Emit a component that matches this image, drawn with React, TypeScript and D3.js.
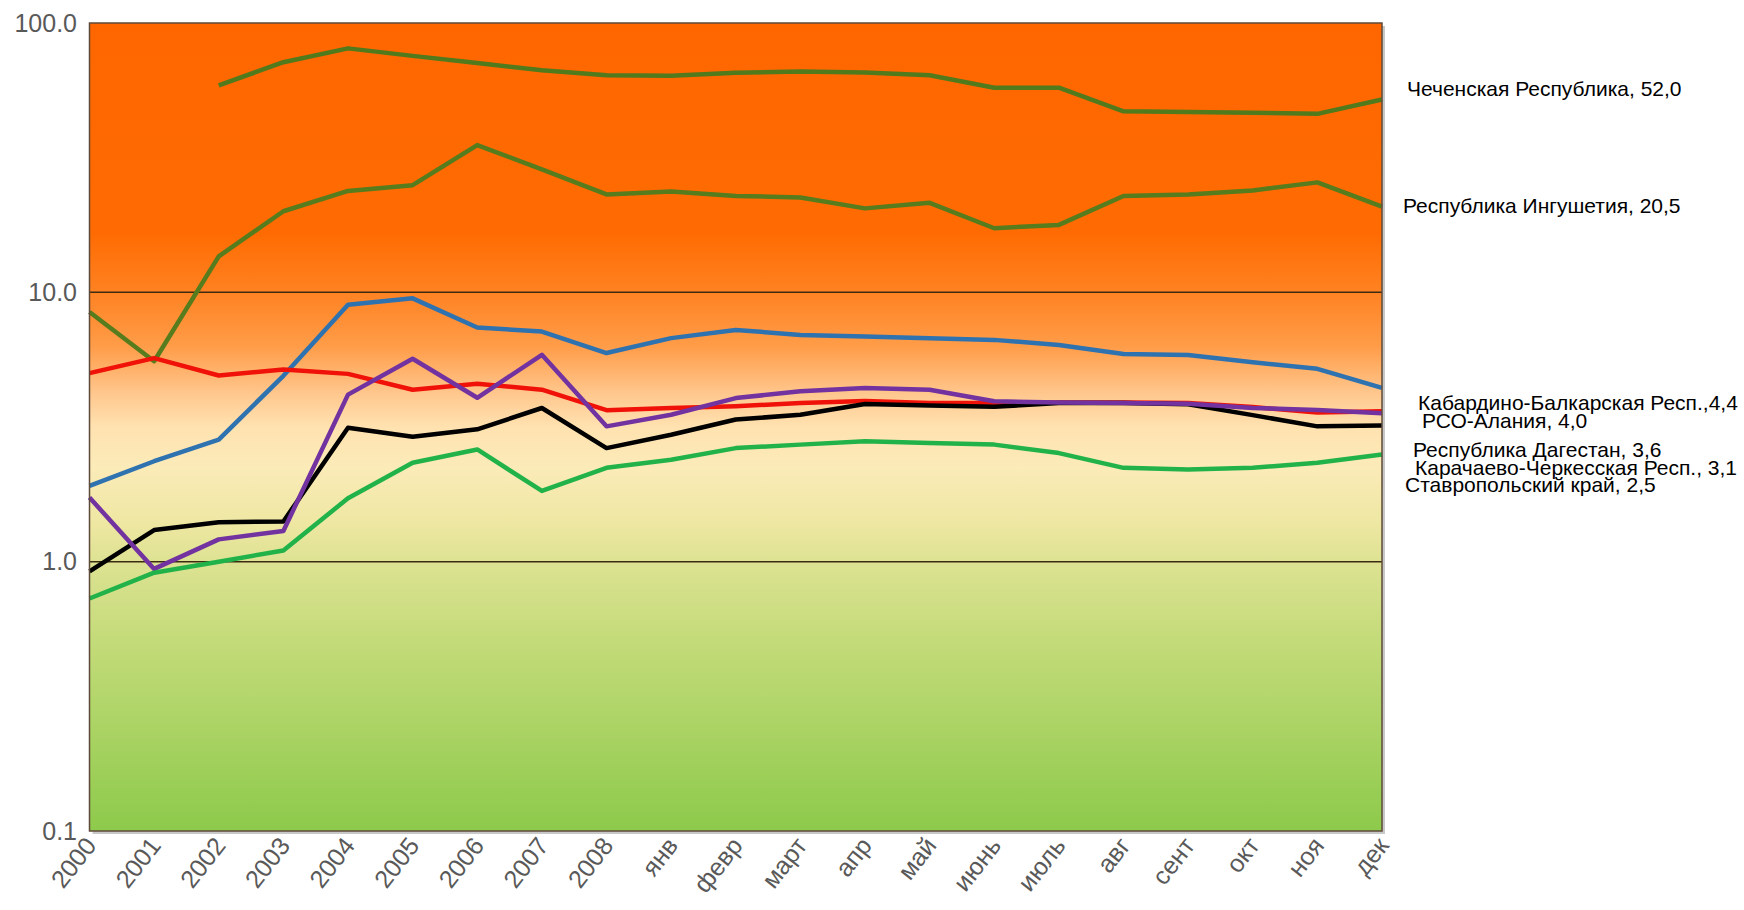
import React, { useEffect, useRef } from 'react';
import * as d3 from 'd3';

const categories = [
  '2000', '2001', '2002', '2003', '2004', '2005', '2006', '2007', '2008',
  'янв', 'февр', 'март', 'апр', 'май', 'июнь', 'июль', 'авг', 'сент', 'окт', 'ноя', 'дек',
];

const chechnya = [null, null, 58.7, 71.5, 80.5, 75.5, 71, 66.8, 64, 63.7, 65.3, 66, 65.5, 64, 57.5, 57.5, 47, 46.7, 46.4, 46, 52];
const ingushetia = [8.45, 5.55, 13.6, 20, 23.8, 25, 35.2, 28.6, 23.1, 23.7, 22.8, 22.5, 20.5, 21.5, 17.3, 17.8, 22.8, 23.1, 23.9, 25.6, 20.8];
const kbr = [1.91, 2.36, 2.84, 4.9, 9.0, 9.5, 7.4, 7.15, 5.95, 6.76, 7.25, 6.95, 6.85, 6.76, 6.66, 6.38, 5.9, 5.85, 5.5, 5.2, 4.42];
const alania = [5.01, 5.7, 4.91, 5.17, 4.98, 4.35, 4.58, 4.35, 3.65, 3.72, 3.78, 3.88, 3.95, 3.88, 3.88, 3.9, 3.9, 3.88, 3.75, 3.58, 3.62];
const dagestan = [1.73, 0.94, 1.21, 1.3, 4.17, 5.67, 4.06, 5.86, 3.18, 3.51, 4.05, 4.29, 4.41, 4.35, 3.94, 3.9, 3.88, 3.86, 3.72, 3.66, 3.56];
const kchr = [0.92, 1.31, 1.4, 1.41, 3.14, 2.91, 3.1, 3.72, 2.64, 2.96, 3.37, 3.51, 3.85, 3.8, 3.76, 3.88, 3.88, 3.84, 3.5, 3.18, 3.2];
const stavropol = [0.73, 0.91, 1.0, 1.1, 1.72, 2.33, 2.61, 1.83, 2.23, 2.39, 2.64, 2.72, 2.8, 2.76, 2.72, 2.53, 2.23, 2.2, 2.23, 2.33, 2.5];

const yTicks = [0.1, 1, 10, 100];

const seriesList = [
  { values: chechnya, color: '#517a1d' },
  { values: ingushetia, color: '#567c1d' },
  { values: kbr, color: '#2f72b0' },
  { values: alania, color: '#f01208' },
  { values: kchr, color: '#000000' },
  { values: dagestan, color: '#7232a0' },
  { values: stavropol, color: '#22b24a' },
];

const endLabels = [
  { text: 'Чеченская Республика, 52,0', x: 1407, y: 96 },
  { text: 'Республика Ингушетия, 20,5', x: 1403, y: 213 },
  { text: 'Кабардино-Балкарская Респ.,4,4', x: 1418, y: 410 },
  { text: 'РСО-Алания, 4,0', x: 1422, y: 428 },
  { text: 'Республика Дагестан, 3,6', x: 1413, y: 457 },
  { text: 'Карачаево-Черкесская Респ., 3,1', x: 1415, y: 475 },
  { text: 'Ставропольский край,  2,5', x: 1405, y: 492 },
];

export default function App() {
  const svgRef = useRef<SVGSVGElement>(null);
  const width = 1744;
  const height = 910;

  useEffect(() => {
    const svg = d3.select(svgRef.current);
    svg.selectAll('*').remove();

    const left = 89.5;
    const right = 1382;
    const top = 23;
    const bottom = 831;

    const x = d3.scalePoint<string>().domain(categories).range([left, right]).padding(0);
    const y = d3.scaleLog().domain([0.1, 100]).range([bottom, top]);

    // background gradient
    const defs = svg.append('defs');
    const grad = defs.append('linearGradient')
      .attr('id', 'bg')
      .attr('x1', 0).attr('y1', 0).attr('x2', 0).attr('y2', 1);
    const stops: [number, string][] = [
      [0, '#ff6600'],
      [0.26, '#ff6b02'],
      [0.333, '#ff8222'],
      [0.4, '#ff9c48'],
      [0.46, '#ffc88f'],
      [0.5, '#ffe2b0'],
      [0.55, '#fbebb8'],
      [0.62, '#eee7a2'],
      [0.667, '#dde292'],
      [0.75, '#c7dc7c'],
      [1, '#8dca4b'],
    ];
    stops.forEach(([o, c]) => grad.append('stop').attr('offset', o).attr('stop-color', c));

    // shadow
    svg.append('rect')
      .attr('x', left + 3).attr('y', top + 3)
      .attr('width', right - left).attr('height', bottom - top)
      .attr('fill', '#c8c8c8');

    svg.append('rect')
      .attr('x', left).attr('y', top)
      .attr('width', right - left).attr('height', bottom - top)
      .attr('fill', 'url(#bg)');

    // gridlines
    svg.append('g')
      .selectAll('line')
      .data([1, 10])
      .enter()
      .append('line')
      .attr('x1', left).attr('x2', right)
      .attr('y1', d => y(d)).attr('y2', d => y(d))
      .attr('stroke', '#3c2a12')
      .attr('stroke-width', 1.5);

    // lines
    const line = d3.line<number | null>()
      .defined(d => d != null)
      .x((_, i) => x(categories[i]) as number)
      .y(d => y(d as number));

    svg.append('g')
      .selectAll('path')
      .data(seriesList)
      .enter()
      .append('path')
      .attr('d', d => line(d.values))
      .attr('fill', 'none')
      .attr('stroke', d => d.color)
      .attr('stroke-width', 4.5)
      .attr('stroke-linejoin', 'round');

    // frame
    svg.append('rect')
      .attr('x', left).attr('y', top)
      .attr('width', right - left).attr('height', bottom - top)
      .attr('fill', 'none')
      .attr('stroke', '#5e4a3a')
      .attr('stroke-width', 1.5);

    // y labels
    svg.append('g')
      .selectAll('text')
      .data(yTicks)
      .enter()
      .append('text')
      .attr('x', 77)
      .attr('y', d => y(d))
      .attr('dy', '0.35em')
      .attr('text-anchor', 'end')
      .style('font-family', '"Liberation Sans", Arial, sans-serif')
      .style('font-size', '25px')
      .style('fill', '#595959')
      .text(d => d.toFixed(1));

    // x labels
    svg.append('g')
      .selectAll('text')
      .data(categories)
      .enter()
      .append('text')
      .attr('transform', d => `translate(${(x(d) as number) + 8}, 846) rotate(-52)`)
      .attr('text-anchor', 'end')
      .style('font-family', '"Liberation Sans", Arial, sans-serif')
      .style('font-size', '25px')
      .style('fill', '#595959')
      .text(d => d);

    // end labels
    svg.append('g')
      .selectAll('text')
      .data(endLabels)
      .enter()
      .append('text')
      .attr('x', d => d.x)
      .attr('y', d => d.y)
      .style('font-family', '"Liberation Sans", Arial, sans-serif')
      .style('font-size', '21px')
      .style('fill', '#000000')
      .text(d => d.text);
  }, []);

  return (
    <svg
      ref={svgRef}
      width={width}
      height={height}
      style={{ position: 'absolute', left: 0, top: 0, background: '#ffffff' }}
    />
  );
}
